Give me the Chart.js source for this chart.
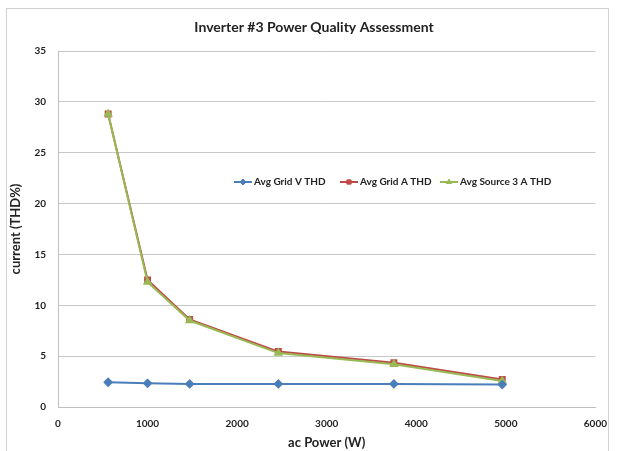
<!DOCTYPE html>
<html>
<head>
<meta charset="utf-8">
<script src="https://cdn.jsdelivr.net/npm/chart.js@4"></script>
<style>
  html, body { margin: 0; padding: 0; background: #fff; }
  #wrap { width: 618px; height: 451px; }
</style>
</head>
<body>
<div id="wrap"><canvas id="thdChart" width="618" height="451"></canvas></div>
<script>
// values
const acPower = [560, 1000, 1470, 2460, 3750, 4960];
const gridV = [2.43, 2.33, 2.27, 2.27, 2.27, 2.2];
const gridA = [28.8, 12.5, 8.6, 5.45, 4.35, 2.7];
const source3A = [28.8, 12.3, 8.5, 5.3, 4.2, 2.55];
const seriesNames = ['Avg Grid V THD', 'Avg Grid A THD', 'Avg Source 3 A THD'];
const xTicks = [0, 1000, 2000, 3000, 4000, 5000, 6000];
const yTicks = [0, 5, 10, 15, 20, 25, 30, 35];

const FONT = 'Lato, "Open Sans", sans-serif';

function toPoints(values) {
    return acPower.map((x, i) => ({ x: x, y: values[i] }));
}

// chart frame and title, like the spreadsheet chart
const framePlugin = {
    id: 'frame',
    beforeDraw: function(chart) {
        const ctx = chart.ctx;
        ctx.save();
        ctx.fillStyle = '#fff';
        ctx.fillRect(0, 0, chart.width, chart.height);
        ctx.strokeStyle = '#d0d0d0';
        ctx.lineWidth = 1;
        ctx.strokeRect(6.5, 8.5, 602, 470);
        ctx.restore();
    },
    afterDraw: function(chart) {
        const ctx = chart.ctx;
        ctx.save();
        ctx.fillStyle = '#222';
        ctx.font = 'bold 14px ' + FONT;
        ctx.textAlign = 'center';
        ctx.textBaseline = 'middle';
        ctx.fillText('Inverter #3 Power Quality Assessment', 314, 27);
        ctx.restore();
    }
};

// legend sitting inside the plot area
const innerLegend = {
    id: 'innerLegend',
    afterDraw: function(chart) {
        const ctx = chart.ctx;
        const starts = [234, 340, 440];
        const y = 182;
        ctx.save();
        ctx.font = 'bold 10px ' + FONT;
        ctx.textBaseline = 'middle';
        chart.data.datasets.forEach(function(ds, i) {
            const x = starts[i];
            ctx.strokeStyle = ds.borderColor;
            ctx.lineWidth = 2;
            ctx.beginPath();
            ctx.moveTo(x, y);
            ctx.lineTo(x + 18, y);
            ctx.stroke();
            ctx.fillStyle = ds.pointBackgroundColor;
            ctx.strokeStyle = ds.pointBorderColor;
            ctx.lineWidth = 1;
            Chart.helpers.drawPoint(ctx, {
                pointStyle: ds.pointStyle,
                radius: ds.pointRadius - 0.5,
                borderWidth: 1,
                rotation: 0
            }, x + 9, y);
            ctx.fillStyle = '#222';
            ctx.fillText(ds.label, x + 20, y);
        });
        ctx.restore();
    }
};

const ctx = document.getElementById('thdChart').getContext('2d');

new Chart(ctx, {
    type: 'scatter',
    data: {
        datasets: [{
            label: seriesNames[0],
            data: toPoints(gridV),
            showLine: true,
            borderColor: '#4a7ebb',
            backgroundColor: '#4a7ebb',
            pointBackgroundColor: '#4a7ebb',
            pointBorderColor: '#4a7ebb',
            borderWidth: 2,
            pointStyle: 'rectRot',
            pointRadius: 3.5,
            order: 1
        }, {
            label: seriesNames[1],
            data: toPoints(gridA),
            showLine: true,
            borderColor: '#be4b48',
            backgroundColor: '#be4b48',
            pointBackgroundColor: '#be4b48',
            pointBorderColor: '#be4b48',
            borderWidth: 2,
            pointStyle: 'rect',
            pointRadius: 3.5,
            order: 3
        }, {
            label: seriesNames[2],
            data: toPoints(source3A),
            showLine: true,
            borderColor: '#98b954',
            backgroundColor: '#98b954',
            pointBackgroundColor: '#98b954',
            pointBorderColor: '#98b954',
            borderWidth: 2,
            pointStyle: 'triangle',
            pointRadius: 3.5,
            order: 2
        }]
    },
    options: {
        responsive: false,
        animation: false,
        layout: { padding: { left: 8, top: 51, right: 20, bottom: 0 } },
        plugins: {
            legend: { display: false },
            title: { display: false },
            tooltip: { enabled: false }
        },
        scales: {
            x: {
                type: 'linear',
                min: 0,
                max: 6000,
                afterBuildTicks: function(axis) {
                    axis.ticks = xTicks.map(v => ({ value: v }));
                },
                afterFit: function(axis) { axis.height = 44; },
                grid: { display: false, drawTicks: false },
                border: { display: true, color: '#bfbfbf', width: 1 },
                ticks: {
                    color: '#222',
                    font: { family: FONT, size: 10, weight: 'bold' },
                    padding: 11,
                    maxRotation: 0,
                    callback: v => String(v)
                },
                title: {
                    display: true,
                    text: 'ac Power (W)',
                    color: '#222',
                    font: { family: FONT, size: 13, weight: 'bold' },
                    padding: { top: 0, bottom: 0 }
                }
            },
            y: {
                type: 'linear',
                min: 0,
                max: 35,
                afterBuildTicks: function(axis) {
                    axis.ticks = yTicks.map(v => ({ value: v }));
                },
                afterFit: function(axis) { axis.width = 50; },
                grid: { color: '#c8c8c8', lineWidth: 1, drawTicks: false },
                border: { display: true, color: '#bfbfbf', width: 1 },
                ticks: {
                    color: '#222',
                    font: { family: FONT, size: 10, weight: 'bold' },
                    padding: 12,
                    callback: v => String(v)
                },
                title: {
                    display: true,
                    text: 'current (THD%)',
                    color: '#222',
                    font: { family: FONT, size: 13, weight: 'bold' },
                    padding: { top: 0, bottom: 4 }
                }
            }
        }
    },
    plugins: [framePlugin, innerLegend]
});
</script>
</body>
</html>
